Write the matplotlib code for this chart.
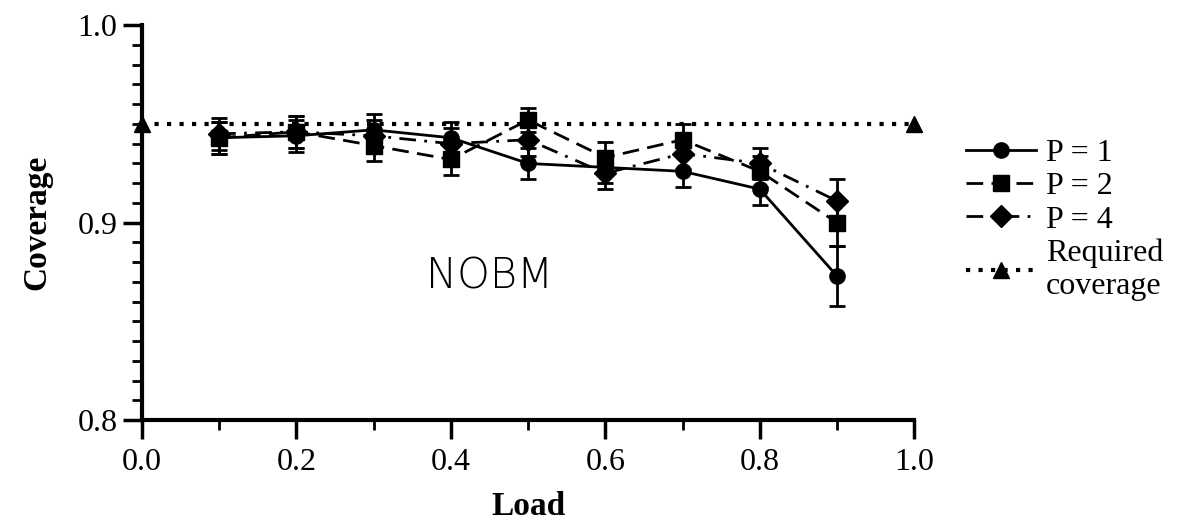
import matplotlib.pyplot as plt
from matplotlib.lines import Line2D
import numpy as np

load = [0.1, 0.2, 0.3, 0.4, 0.5, 0.6, 0.7, 0.8, 0.9]
p1 = [0.943, 0.944, 0.947, 0.943, 0.930, 0.928, 0.926, 0.917, 0.873]
p2 = [0.943, 0.946, 0.939, 0.932, 0.952, 0.933, 0.942, 0.926, 0.900]
p4 = [0.945, 0.946, 0.944, 0.940, 0.942, 0.925, 0.935, 0.930, 0.911]
err1 = [0.008, 0.008, 0.008, 0.008, 0.008, 0.008, 0.008, 0.008, 0.015]
err2 = [0.008, 0.008, 0.008, 0.008, 0.006, 0.008, 0.008, 0.008, 0.012]
err4 = [0.008, 0.008, 0.008, 0.008, 0.008, 0.008, 0.008, 0.008, 0.011]
req_x = [0.0, 1.0]
req_y = [0.95, 0.95]

plt.rcParams['font.family'] = ['Liberation Serif', 'DejaVu Serif']

fig = plt.figure(figsize=(11.92, 5.24), dpi=100)
ax = fig.add_axes([0.119, 0.198, 0.648, 0.754])

styles = [('o', '-'), ('s', (0, (6, 3))), ('D', (0, (6, 3, 1, 3)))]
labels = ['P = 1', 'P = 2', 'P = 4']
common = dict(color='black', lw=2, ms=11, capsize=6, elinewidth=2, capthick=2)
for (m, ls), y, e in zip(styles, [p1, p2, p4], [err1, err2, err4]):
    ax.errorbar(load, y, yerr=e, marker=m, ls=ls, **common)
req_ls = (0, (1, 2))
ax.plot(req_x, req_y, color='black', lw=3, ls=req_ls, marker='^', ms=11,
        clip_on=False, zorder=5)

ax.set_xlim(0, 1)
ax.set_ylim(0.8, 1.0)
ax.set_xticks([0.0, 0.2, 0.4, 0.6, 0.8, 1.0])
ax.set_xticks(np.arange(0.1, 1.0, 0.2), minor=True)
ax.set_yticks([0.8, 0.9, 1.0])
ax.set_yticks(np.arange(0.81, 1.0, 0.01), minor=True)
ax.tick_params(which='major', length=14, width=2.5, labelsize=23, direction='out')
ax.tick_params(which='minor', length=7, width=2, direction='out')
ax.tick_params(axis='x', pad=6)
for s in ['top', 'right']:
    ax.spines[s].set_visible(False)
for s in ['left', 'bottom']:
    ax.spines[s].set_linewidth(3)

ax.set_xlabel('Load', fontsize=24, fontweight='bold', labelpad=10)
ax.set_ylabel('Coverage', fontsize=24, fontweight='bold', labelpad=18)

ax.text(0.45, 0.873, 'NOBM', fontsize=30, family='DejaVu Sans', fontweight='light',
        ha='center', va='center')

handles = [Line2D([], [], color='black', lw=2, ms=11, marker=m, ls=ls) for m, ls in styles]
handles.append(Line2D([], [], color='black', lw=3, ms=11, marker='^', ls=req_ls))
ax.legend(handles, labels + ['Required\ncoverage'], loc='upper left',
          bbox_to_anchor=(1.03, 0.785), frameon=False, fontsize=23,
          handlelength=2.2, handletextpad=0.3, labelspacing=0.12)

fig.savefig('out.png', dpi=100)
